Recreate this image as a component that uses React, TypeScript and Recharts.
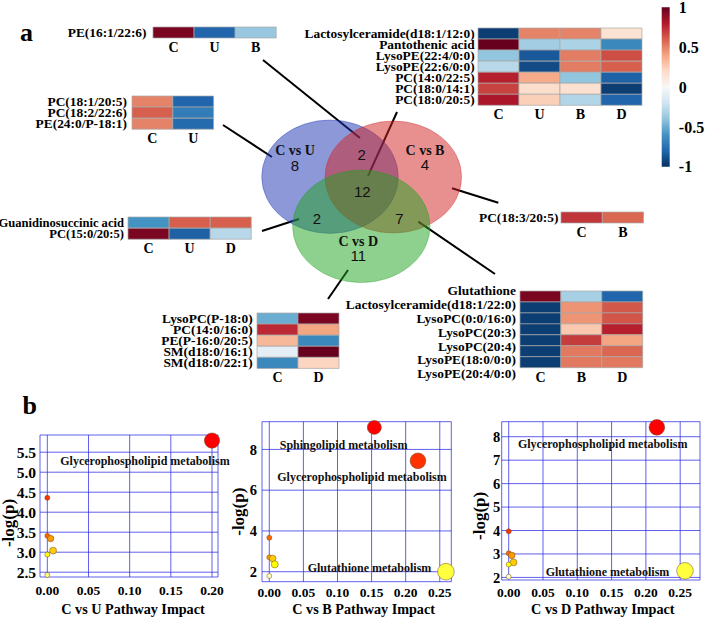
import React from 'react';
import {
  BarChart,
  Bar,
  Cell,
  XAxis,
  YAxis,
  ZAxis,
  ScatterChart,
  Scatter,
  CartesianGrid,
  ReferenceLine,
  ReferenceDot,
} from 'recharts';

const SERIF = "'Liberation Serif', 'Times New Roman', serif";
const SANS = "'Liberation Sans', Arial, sans-serif";

// ---------- panel a : heatmaps (scaled intensities, -1 .. 1)
const pe16Rows = ['PE(16:1/22:6)'];
const pe16Cols = ['C', 'U', 'B'];
const pe16Vals = [[0.95, -0.8, -0.38]];

const cuRows = ['PC(18:1/20:5)', 'PC(18:2/22:6)', 'PE(24:0/P-18:1)'];
const cuCols = ['C', 'U'];
const cuVals = [
  [0.5, -0.8],
  [0.6, -0.7],
  [0.5, -0.78],
];

const allRows = [
  'Lactosylceramide(d18:1/12:0)',
  'Pantothenic acid',
  'LysoPE(22:4/0:0)',
  'LysoPE(22:6/0:0)',
  'PC(14:0/22:5)',
  'PC(18:0/14:1)',
  'PC(18:0/20:5)',
];
const allCols = ['C', 'U', 'B', 'D'];
const allVals = [
  [-0.95, 0.5, 0.5, 0.15],
  [1.0, -0.35, -0.32, -0.65],
  [-0.4, -0.85, 0.52, 0.65],
  [-0.28, -0.9, 0.52, 0.6],
  [0.78, 0.38, -0.4, -0.82],
  [0.68, 0.18, 0.16, -0.95],
  [0.82, 0.24, -0.3, -0.8],
];

const udRows = ['Guanidinosuccinic acid', 'PC(15:0/20:5)'];
const udCols = ['C', 'U', 'D'];
const udVals = [
  [-0.6, 0.6, 0.6],
  [0.95, -0.82, -0.28],
];

const cbRows = ['PC(18:3/20:5)'];
const cbCols = ['C', 'B'];
const cbVals = [[0.72, 0.58]];

const cdRows = ['LysoPC(P-18:0)', 'PC(14:0/16:0)', 'PE(P-16:0/20:5)', 'SM(d18:0/16:1)', 'SM(d18:0/22:1)'];
const cdCols = ['C', 'D'];
const cdVals = [
  [-0.5, 0.95],
  [0.75, 0.4],
  [0.33, -0.65],
  [-0.1, 1.0],
  [-0.65, 0.22],
];

const bdRows = [
  'Glutathione',
  'Lactosylceramide(d18:1/22:0)',
  'LysoPC(0:0/16:0)',
  'LysoPC(20:3)',
  'LysoPC(20:4)',
  'LysoPE(18:0/0:0)',
  'LysoPE(20:4/0:0)',
];
const bdCols = ['C', 'B', 'D'];
const bdVals = [
  [0.95, -0.33, -0.8],
  [-0.95, 0.45, 0.62],
  [-0.95, 0.45, 0.63],
  [-0.95, 0.27, 0.78],
  [-0.95, 0.7, 0.4],
  [-0.95, 0.53, 0.58],
  [-0.95, 0.53, 0.53],
];

const colorbarTicks = [-1, -0.5, 0, 0.5, 1];

// ---------- panel a : venn
const vennSets = ['C vs U', 'C vs B', 'C vs D'];
const vennSetCounts = [8, 4, 11];
const vennOverlaps = ['U&B', 'U&B&D', 'U&D', 'B&D'];
const vennOverlapCounts = [2, 12, 2, 7];

// ---------- panel b : pathway impact vs -log(p)
const cuImpact = [0.2, 0, 0, 0.004, 0.007, 0, 0];
const cuLogP = [5.79, 4.36, 3.41, 3.34, 3.04, 2.94, 2.43];
const cbImpact = [0.154, 0.218, 0.259, 0, 0, 0.005, 0.008, 0];
const cbLogP = [9.08, 7.44, 2.0, 3.67, 2.71, 2.65, 2.36, 1.79];
const cdImpact = [0.216, 0.257, 0, 0, 0.0044, 0.007, 0, 0];
const cdLogP = [8.4, 2.28, 3.97, 3.03, 2.94, 2.64, 2.55, 2.03];

// ---------- colours
const RDBU = ['#053061', '#2166ac', '#4393c3', '#92c5de', '#d1e5f0', '#f7f7f7', '#fddbc7', '#f4a582', '#d6604d', '#b2182b', '#67001f'];

function hex(c: string) {
  return [1, 3, 5].map((k) => parseInt(c.slice(k, k + 2), 16));
}

function rdbu(v: number) {
  const t = Math.max(0, Math.min(1, (v + 1) / 2)) * 10;
  const i = Math.min(9, Math.floor(t));
  const f = t - i;
  const a = hex(RDBU[i]);
  const b = hex(RDBU[i + 1]);
  const c = a.map((x, k) => Math.round(x + (b[k] - x) * f));
  return `rgb(${c[0]},${c[1]},${c[2]})`;
}

function hsv(h: number, s: number, v: number) {
  // only used for hues 0..1/6 (red -> yellow)
  const r = v;
  const g = v * (1 - s * (1 - h * 6));
  const b = v * (1 - s);
  return `rgb(${Math.round(r * 255)},${Math.round(g * 255)},${Math.round(b * 255)})`;
}

// same palette as R's heat.colors(n)
function heatColors(n: number) {
  const j = Math.floor(n / 4);
  const i = n - j;
  const out: string[] = [];
  for (let k = 0; k < i; k++) out.push(hsv(i > 1 ? (k / (i - 1)) / 6 : 0, 1, 1));
  const s0 = 1 - 1 / (2 * j);
  const s1 = 1 / (2 * j);
  for (let k = 0; k < j; k++) out.push(hsv(1 / 6, j > 1 ? s0 + ((s1 - s0) * k) / (j - 1) : s0, 1));
  return out;
}

// ---------- heatmap block
type HeatProps = {
  rows: string[];
  cols: string[];
  values: number[][];
  left: number;
  top: number;
  cellW: number;
  cellH: number;
  gap?: number;
  fontSize?: number;
  labelShift?: [number, number];
};

const LABEL_W = 210;

function Heatmap({ rows, cols, values, left, top, cellW, cellH, gap = 4, fontSize = 13.4, labelShift }: HeatProps) {
  const data = rows.map((name) => {
    const d: Record<string, any> = { name };
    cols.forEach((_, j) => (d['c' + j] = 1));
    return d;
  });
  const axisH = 24;
  const pad = labelShift ? 12 : 1;
  const extra = labelShift ? 14 : 0;
  const width = LABEL_W + cols.length * cellW + 2;
  const height = rows.length * cellH + axisH + pad + extra;
  return (
    <div style={{ position: 'absolute', left: left - LABEL_W, top: top - pad, width, height }}>
      <BarChart
        width={width}
        height={height}
        data={data}
        layout="vertical"
        margin={{ top: pad, right: 2, left: 0, bottom: extra }}
        barCategoryGap={0}
        barGap={0}
      >
        <XAxis
          type="number"
          domain={[0, cols.length]}
          ticks={cols.map((_, j) => j + 0.5)}
          tickFormatter={(v) => cols[Math.floor(v)]}
          axisLine={false}
          tickLine={false}
          tickSize={0}
          tickMargin={4}
          height={axisH}
          interval={0}
          tick={{ fontFamily: SERIF, fontWeight: 700, fontSize: 14, fill: '#000' }}
        />
        <YAxis
          type="category"
          dataKey="name"
          width={LABEL_W}
          axisLine={false}
          tickLine={false}
          tickSize={0}
          tickMargin={gap}
          interval={0}
          tick={(p: any) => {
            const dy = labelShift ? labelShift[0] + p.index * labelShift[1] : 0;
            return (
              <text
                x={p.x}
                y={p.y + dy}
                textAnchor="end"
                dominantBaseline="central"
                fontFamily={SERIF}
                fontWeight={700}
                fontSize={fontSize}
                fill="#000"
              >
                {p.payload.value}
              </text>
            );
          }}
        />
        {cols.map((c, j) => (
          <Bar key={c} dataKey={'c' + j} stackId="h" isAnimationActive={false} stroke="#a8a8a8" strokeWidth={0.7}>
            {rows.map((r, i) => (
              <Cell key={r} fill={rdbu(values[i][j])} />
            ))}
          </Bar>
        ))}
      </BarChart>
    </div>
  );
}

function ColorBar() {
  const data = [{ name: 'scale', range: [-1, 1] }];
  return (
    <div style={{ position: 'absolute', left: 650, top: 0 }}>
      <BarChart width={55} height={175} data={data} margin={{ top: 7.3, right: 0, left: 11.7, bottom: 8.3 }} barCategoryGap={0}>
        <XAxis dataKey="name" type="category" hide />
        <YAxis
          orientation="right"
          type="number"
          domain={[-1, 1]}
          ticks={colorbarTicks}
          tickFormatter={(v) => String(v)}
          width={35.7}
          axisLine={false}
          tickLine={false}
          tickSize={0}
          tickMargin={9.5}
          interval={0}
          tick={{ fontFamily: SERIF, fontWeight: 700, fontSize: 16, fill: '#000' }}
        />
        <Bar dataKey="range" fill="url(#rdbuGrad)" isAnimationActive={false} />
      </BarChart>
    </div>
  );
}

// ---------- venn layout (pixel space of the overlay)
const ELLIPSES = [
  { cx: 330, cy: 176.7, rx: 68.3, ry: 56.7, fill: 'rgb(25,49,177)' },
  { cx: 393.3, cy: 177, rx: 68.3, ry: 56, fill: 'rgb(209,33,33)' },
  { cx: 361.3, cy: 226.3, rx: 68.7, ry: 56.3, fill: 'rgb(29,161,29)' },
];
const SET_NAME_POS = [
  [295, 150],
  [425, 150],
  [358.3, 241],
];
const SET_COUNT_POS = [
  [295, 165.5],
  [425, 164],
  [358.3, 255.5],
];
const OVERLAP_POS = [
  [361.7, 154.5],
  [362.3, 191.5],
  [317, 218],
  [399.5, 218],
];
const CONNECTORS = [
  [263, 60, 360, 138],
  [223, 125, 272, 157],
  [397, 112, 368, 176],
  [452, 188.3, 498.3, 202.7],
  [262, 231, 299, 219],
  [418.3, 221.7, 495, 274],
  [348, 270, 328, 299],
];

function VennOverlay() {
  const ellData = ELLIPSES.map((e, i) => ({ x: e.cx, y: e.cy, name: vennSets[i], ...e }));
  const nameData = vennSets.map((name, i) => ({ x: SET_NAME_POS[i][0], y: SET_NAME_POS[i][1], text: name }));
  const countData = [
    ...vennSetCounts.map((n, i) => ({ x: SET_COUNT_POS[i][0], y: SET_COUNT_POS[i][1], text: String(n) })),
    ...vennOverlapCounts.map((n, i) => ({ x: OVERLAP_POS[i][0], y: OVERLAP_POS[i][1], text: String(n), key: vennOverlaps[i] })),
  ];
  return (
    <div style={{ position: 'absolute', left: 0, top: 0 }}>
      <ScatterChart width={705} height={400} margin={{ top: 0, right: 0, left: 0, bottom: 0 }}>
        <XAxis type="number" dataKey="x" domain={[0, 705]} hide />
        <YAxis type="number" dataKey="y" domain={[0, 400]} reversed hide />
        <Scatter
          data={ellData}
          isAnimationActive={false}
          shape={(p: any) => (
            <ellipse
              cx={p.cx}
              cy={p.cy}
              rx={p.payload.rx}
              ry={p.payload.ry}
              fill={p.payload.fill}
              fillOpacity={0.5}
              stroke={p.payload.fill}
              strokeOpacity={0.35}
              strokeWidth={1}
            />
          )}
        />
        <Scatter
          data={nameData}
          isAnimationActive={false}
          shape={(p: any) => (
            <text x={p.cx} y={p.cy} textAnchor="middle" dominantBaseline="central" fontFamily={SERIF} fontWeight={700} fontSize={14} fill="#111">
              {p.payload.text}
            </text>
          )}
        />
        <Scatter
          data={countData}
          isAnimationActive={false}
          shape={(p: any) => (
            <text x={p.cx} y={p.cy} textAnchor="middle" dominantBaseline="central" fontFamily={SANS} fontSize={15} fill="#111">
              {p.payload.text}
            </text>
          )}
        />
        {CONNECTORS.map((s, i) => (
          <ReferenceLine
            key={i}
            segment={[
              { x: s[0], y: s[1] },
              { x: s[2], y: s[3] },
            ]}
            stroke="#000"
            strokeWidth={2}
            ifOverflow="visible"
          />
        ))}
      </ScatterChart>
    </div>
  );
}

// ---------- panel b plots
type Note = { text: string; x: number; y: number };
type PlotCfg = {
  title: string;
  impact: number[];
  logp: number[];
  notes: Note[];
  left: number;
  top: number;
  width: number;
  height: number;
  margin: { top: number; right: number; left: number; bottom: number };
  yWidth: number;
  xHeight: number;
  xDomain: [number, number];
  yDomain: [number, number];
  xTicks: number[];
  yTicks: number[];
  yDigits: number;
  yFont: number;
  xTickMargin: number;
  yTickMargin: number;
  yLabelDx: number;
  yLabelDy: number;
  titleDx: number;
};

const plots: PlotCfg[] = [
  {
    title: 'C vs U Pathway Impact',
    impact: cuImpact,
    logp: cuLogP,
    notes: [{ text: 'Glycerophospholipid metabolism', x: 0.1186, y: 5.28 }],
    left: 0,
    top: 420,
    width: 230,
    height: 200,
    margin: { top: 15, right: 12, left: 0, bottom: 0 },
    yWidth: 40,
    xHeight: 43,
    xDomain: [-0.0089, 0.2073],
    yDomain: [2.38, 5.93],
    xTicks: [0, 0.05, 0.1, 0.15, 0.2],
    yTicks: [2.5, 3, 3.5, 4, 4.5, 5, 5.5],
    yDigits: 1,
    yFont: 15.5,
    xTickMargin: 8,
    yTickMargin: 4,
    yLabelDx: 8,
    yLabelDy: 17,
    titleDx: 4,
  },
  {
    title: 'C vs B Pathway Impact',
    impact: cbImpact,
    logp: cbLogP,
    notes: [
      { text: 'Sphingolipid metabolism', x: 0.109, y: 8.25 },
      { text: 'Glycerophospholipid metabolism', x: 0.136, y: 6.65 },
      { text: 'Glutathione metabolism', x: 0.147, y: 2.2 },
    ],
    left: 221.7,
    top: 405,
    width: 235,
    height: 215,
    margin: { top: 16.7, right: 5.7, left: 10, bottom: 0 },
    yWidth: 30,
    xHeight: 38.3,
    xDomain: [-0.0107, 0.2669],
    yDomain: [1.51, 9.36],
    xTicks: [0, 0.05, 0.1, 0.15, 0.2, 0.25],
    yTicks: [2, 4, 6, 8],
    yDigits: 0,
    yFont: 14.5,
    xTickMargin: 6,
    yTickMargin: 5,
    yLabelDx: 7,
    yLabelDy: 10,
    titleDx: 7,
  },
  {
    title: 'C vs D Pathway Impact',
    impact: cdImpact,
    logp: cdLogP,
    notes: [
      { text: 'Glycerophospholipid metabolism', x: 0.137, y: 7.69 },
      { text: 'Glutathione metabolism', x: 0.144, y: 2.24 },
    ],
    left: 462,
    top: 405,
    width: 243,
    height: 215,
    margin: { top: 16.7, right: 5, left: 8, bottom: 0 },
    yWidth: 31.7,
    xHeight: 40,
    xDomain: [-0.0102, 0.2789],
    yDomain: [1.89, 8.64],
    xTicks: [0, 0.05, 0.1, 0.15, 0.2, 0.25],
    yTicks: [2, 3, 4, 5, 6, 7, 8],
    yDigits: 0,
    yFont: 14.5,
    xTickMargin: 7,
    yTickMargin: 1.5,
    yLabelDx: 10,
    yLabelDy: 15,
    titleDx: 2,
  },
];

const tickStyle = { fontFamily: SERIF, fontWeight: 700, fontSize: 13.5, fill: '#000' };

function Bubble(p: any) {
  const r = 2.5 + 11.5 * Math.sqrt(p.payload.x);
  return <circle cx={p.cx} cy={p.cy} r={r} fill={p.payload.fill} stroke="#6b4a2a" strokeWidth={0.5} />;
}

function PathwayPlot({ cfg }: { cfg: PlotCfg }) {
  const n = cfg.logp.length;
  const order = cfg.logp.map((_, i) => i).sort((a, b) => cfg.logp[b] - cfg.logp[a]);
  const pal = heatColors(n);
  const colorOf: string[] = [];
  order.forEach((idx, rank) => (colorOf[idx] = pal[rank]));
  const data = cfg.impact.map((x, i) => ({ x, y: cfg.logp[i], fill: colorOf[i] }));

  return (
    <div style={{ position: 'absolute', left: cfg.left, top: cfg.top }}>
      <ScatterChart width={cfg.width} height={cfg.height} margin={cfg.margin}>
        <CartesianGrid stroke="#2b2be6" strokeOpacity={0.75} strokeWidth={1} />
        <XAxis
          type="number"
          dataKey="x"
          domain={cfg.xDomain}
          ticks={cfg.xTicks}
          tickFormatter={(v) => Number(v).toFixed(2)}
          axisLine={false}
          tickLine={false}
          tickSize={0}
          tickMargin={cfg.xTickMargin}
          height={cfg.xHeight}
          interval={0}
          tick={tickStyle}
          label={{
            content: ({ viewBox }: any) => (
              <text
                x={viewBox.x + viewBox.width / 2 + cfg.titleDx}
                y={viewBox.y + viewBox.height - 6}
                textAnchor="middle"
                fontFamily={SERIF}
                fontWeight={700}
                fontSize={14.2}
                fill="#000"
              >
                {cfg.title}
              </text>
            ),
          }}
        />
        <YAxis
          type="number"
          dataKey="y"
          domain={cfg.yDomain}
          ticks={cfg.yTicks}
          tickFormatter={(v) => Number(v).toFixed(cfg.yDigits)}
          axisLine={false}
          tickLine={false}
          tickSize={0}
          tickMargin={cfg.yTickMargin}
          width={cfg.yWidth}
          interval={0}
          tick={{ ...tickStyle, fontSize: cfg.yFont }}
          label={{
            content: ({ viewBox }: any) => {
              const x = viewBox.x + cfg.yLabelDx;
              const y = viewBox.y + viewBox.height / 2 + cfg.yLabelDy;
              return (
                <text
                  x={x}
                  y={y}
                  transform={`rotate(-90 ${x} ${y})`}
                  textAnchor="middle"
                  dominantBaseline="central"
                  fontFamily={SERIF}
                  fontWeight={700}
                  fontSize={17}
                  fill="#000"
                >
                  -log(p)
                </text>
              );
            },
          }}
        />
        <ZAxis range={[20, 20]} />
        <Scatter data={data} isAnimationActive={false} shape={Bubble} />
        {cfg.notes.map((nt) => (
          <ReferenceDot
            key={nt.text}
            x={nt.x}
            y={nt.y}
            r={0}
            fill="none"
            stroke="none"
            label={{
              value: nt.text,
              position: 'center',
              fontFamily: SERIF,
              fontWeight: 700,
              fontSize: 12,
              fill: '#111',
            }}
          />
        ))}
      </ScatterChart>
    </div>
  );
}

export default function App() {
  return (
    <div style={{ position: 'absolute', left: 0, top: 0, width: 705, height: 621, background: '#fff', overflow: 'hidden' }}>
      <svg width={0} height={0} style={{ position: 'absolute' }}>
        <defs>
          <linearGradient id="rdbuGrad" x1="0" y1="0" x2="0" y2="1">
            {RDBU.slice()
              .reverse()
              .map((c, i) => (
                <stop key={i} offset={`${(i / (RDBU.length - 1)) * 100}%`} stopColor={c} />
              ))}
          </linearGradient>
        </defs>
      </svg>

      <VennOverlay />

      <Heatmap rows={pe16Rows} cols={pe16Cols} values={pe16Vals} left={153.3} top={26.7} cellW={41.1} cellH={10.7} gap={6.5} />
      <Heatmap rows={cuRows} cols={cuCols} values={cuVals} left={131.7} top={96} cellW={40.8} cellH={11.1} gap={5} />
      <Heatmap rows={allRows} cols={allCols} values={allVals} left={478.3} top={27.7} cellW={41} cellH={11.05} gap={3.3} />
      <Heatmap rows={udRows} cols={udCols} values={udVals} left={128.3} top={216.7} cellW={41.1} cellH={11.2} gap={4} fontSize={12.6} />
      <Heatmap rows={cbRows} cols={cbCols} values={cbVals} left={560.7} top={212} cellW={41.3} cellH={10.7} gap={2.5} />
      <Heatmap rows={cdRows} cols={cdCols} values={cdVals} left={257.3} top={312.7} cellW={41} cellH={11.1} gap={4.3} />
      <Heatmap
        rows={bdRows}
        cols={bdCols}
        values={bdVals}
        left={520}
        top={290.7}
        cellW={40.9}
        cellH={10.95}
        gap={4}
        labelShift={[-5.5, 2.82]}
      />

      <ColorBar />

      {plots.map((cfg) => (
        <PathwayPlot key={cfg.title} cfg={cfg} />
      ))}

      <div style={{ position: 'absolute', left: 20, top: 20, fontFamily: SERIF, fontWeight: 700, fontSize: 26, lineHeight: '26px' }}>a</div>
      <div style={{ position: 'absolute', left: 22.5, top: 393, fontFamily: SERIF, fontWeight: 700, fontSize: 26, lineHeight: '26px' }}>b</div>
    </div>
  );
}
